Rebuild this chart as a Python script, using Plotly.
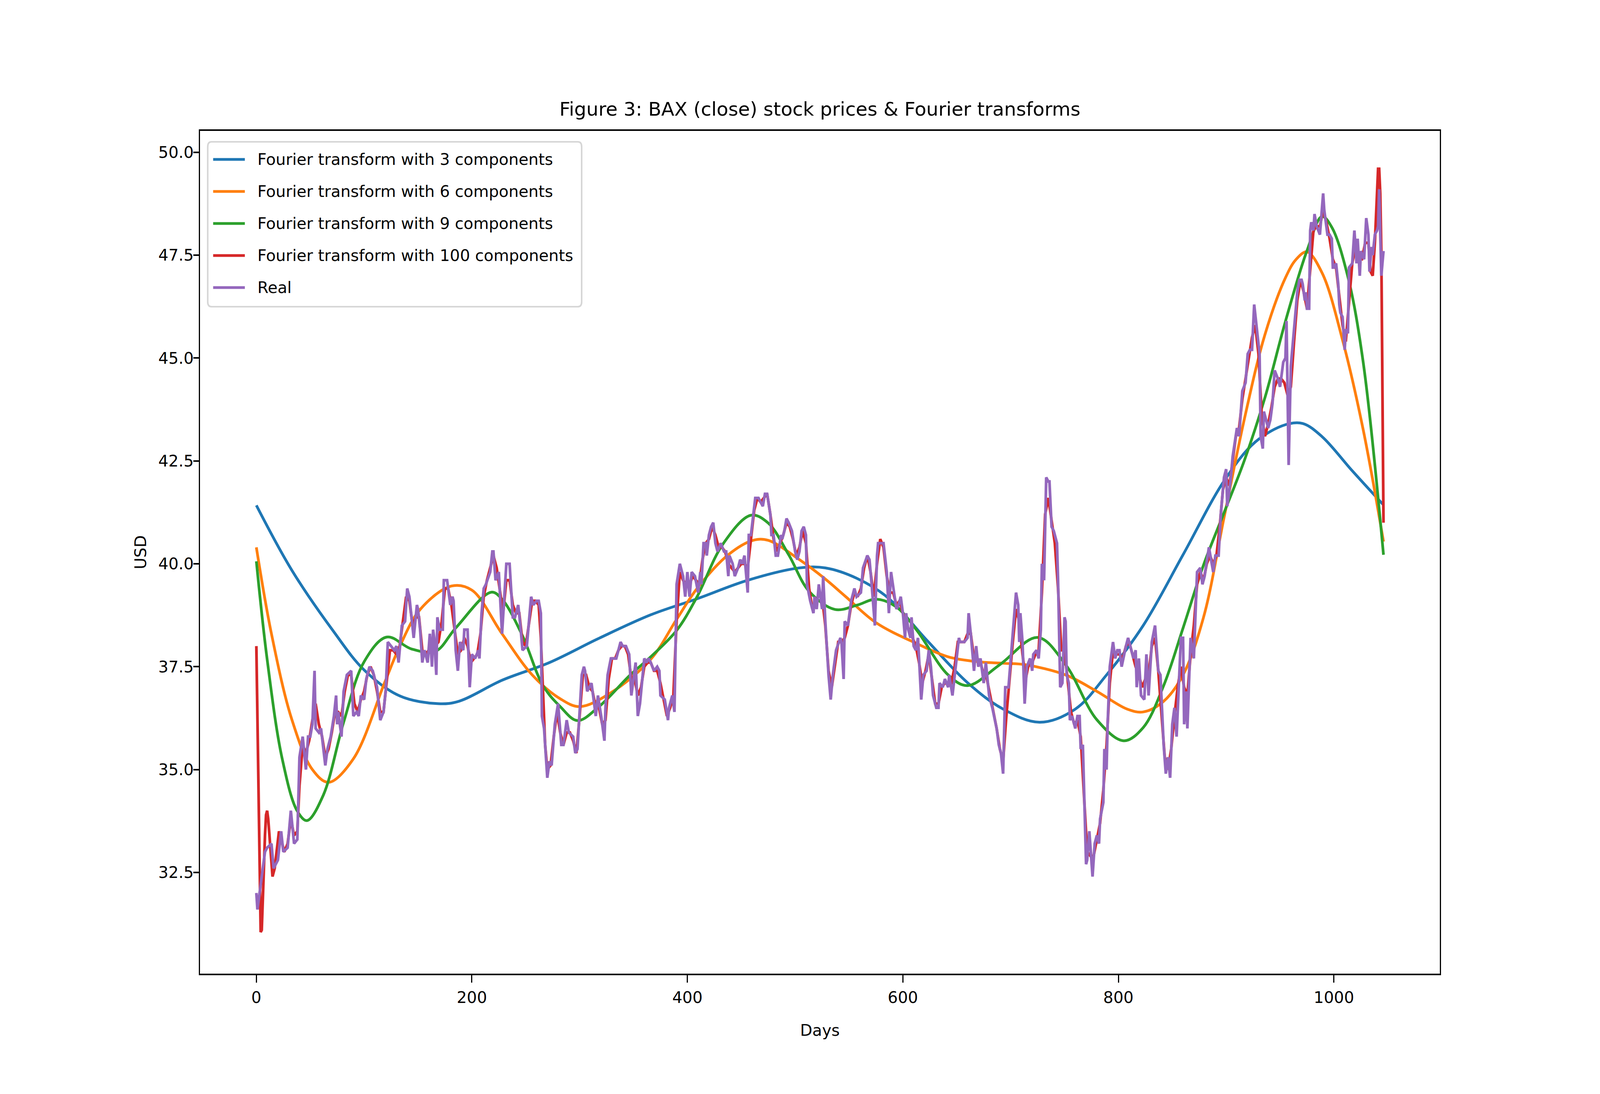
import plotly.graph_objects as go

# values (day index -> USD)
days_real = [
    0, 1, 4, 8, 10, 14, 16, 20, 23, 25, 29, 32, 35, 38, 40, 43, 46, 48, 50, 52,
    54, 55, 58, 60, 64, 66, 69, 72, 74, 75, 76, 79, 81, 84, 88, 90, 93, 95, 97, 100,
    102, 105, 108, 112, 115, 118, 120, 122, 125, 128, 130, 132, 135, 138, 140, 142, 144, 146, 149, 150,
    152, 154, 156, 159, 161, 163, 164, 165, 167, 168, 170, 173, 174, 177, 180, 182, 183, 184, 185, 187,
    189, 192, 193, 196, 198, 200, 203, 206, 207, 209, 211, 213, 217, 219, 220, 222, 225, 228, 230, 232,
    235, 238, 240, 243, 245, 247, 251, 255, 257, 260, 262, 264, 265, 267, 270, 272, 274, 277, 280, 283,
    285, 288, 290, 294, 296, 298, 302, 304, 305, 307, 309, 311, 315, 317, 320, 323, 324, 326, 329, 333,
    334, 338, 340, 343, 346, 348, 350, 352, 354, 356, 360, 362, 364, 366, 369, 372, 374, 375, 379, 382,
    383, 386, 388, 390, 393, 396, 398, 400, 402, 404, 407, 410, 412, 413, 415, 417, 418, 420, 422, 424,
    426, 428, 431, 434, 436, 438, 439, 442, 444, 447, 449, 451, 453, 456, 457, 459, 463, 464, 466, 468,
    470, 472, 474, 477, 478, 480, 482, 484, 487, 488, 490, 492, 494, 497, 500, 502, 504, 506, 508, 510,
    511, 514, 517, 518, 520, 522, 525, 526, 528, 531, 533, 535, 538, 542, 543, 545, 546, 549, 552, 555,
    557, 561, 563, 567, 569, 571, 574, 576, 577, 580, 582, 585, 587, 589, 591, 594, 596, 598, 600, 602,
    603, 605, 607, 608, 610, 612, 614, 617, 619, 622, 624, 626, 628, 631, 633, 634, 637, 639, 642, 643,
    646, 650, 652, 653, 657, 660, 661, 663, 666, 668, 670, 672, 675, 677, 680, 683, 687, 689, 691, 693,
    695, 698, 700, 702, 705, 707, 708, 709, 711, 713, 715, 718, 720, 721, 724, 726, 728, 729, 731, 733,
    735, 736, 738, 740, 743, 744, 746, 748, 750, 751, 752, 754, 755, 757, 760, 762, 764, 765, 767, 770,
    771, 773, 776, 778, 780, 782, 783, 786, 787, 789, 790, 792, 795, 797, 799, 801, 803, 807, 809, 812,
    814, 816, 817, 819, 821, 824, 826, 828, 831, 834, 837, 839, 842, 844, 846, 848, 850, 852, 854, 858,
    860, 861, 863, 864, 867, 870, 873, 876, 878, 880, 884, 888, 890, 893, 895, 898, 900, 901, 904, 906,
    910, 912, 915, 918, 920, 922, 924, 926, 929, 931, 932, 934, 935, 939, 941, 943, 945, 948, 950, 953,
    955, 956, 958, 960, 962, 964, 966, 968, 970, 971, 973, 974, 975, 977, 978, 979, 981, 982, 984, 987,
    988, 990, 991, 994, 996, 998, 999, 1000, 1002, 1004, 1005, 1006, 1008, 1010, 1011, 1013, 1014, 1017, 1019, 1021,
    1022, 1024, 1025, 1028, 1030, 1032, 1033, 1035, 1036, 1038, 1040, 1041, 1042, 1043, 1044, 1046,
]
real = [
    32.0, 31.6, 32.2, 33.0, 33.1, 33.2, 32.6, 32.8, 33.5, 33.0, 33.1, 34.0, 33.2, 33.3, 35.3, 35.8, 35.0, 35.8, 35.8, 36.1,
    37.4, 36.0, 35.9, 36.0, 35.1, 35.5, 35.8, 36.3, 36.8, 36.1, 36.4, 35.8, 36.9, 37.3, 37.4, 36.3, 36.4, 36.3, 36.8, 36.7,
    37.2, 37.5, 37.4, 37.0, 36.2, 36.4, 36.9, 38.1, 38.0, 37.9, 38.0, 37.6, 38.5, 38.6, 39.4, 39.2, 38.7, 38.2, 39.0, 38.9,
    38.4, 37.6, 37.9, 37.6, 38.3, 37.5, 38.4, 38.2, 37.3, 38.7, 38.4, 38.4, 39.6, 39.6, 39.0, 39.2, 39.1, 38.3, 37.9, 37.4,
    38.1, 37.9, 38.4, 38.4, 37.0, 37.8, 37.7, 37.9, 37.7, 38.8, 39.4, 39.5, 39.8, 40.3, 40.3, 39.6, 39.8, 38.3, 39.2, 40.0,
    40.0, 38.7, 38.7, 39.0, 38.5, 37.9, 38.0, 39.2, 39.0, 39.1, 39.1, 38.8, 36.3, 36.0, 34.8, 35.2, 35.1, 36.1, 36.6, 35.6,
    35.6, 36.2, 35.9, 35.8, 35.4, 35.5, 37.3, 37.5, 37.4, 36.9, 37.0, 37.1, 36.3, 36.8, 36.3, 35.7, 36.5, 37.3, 37.7, 37.7,
    37.7, 38.1, 38.0, 38.0, 37.8, 36.8, 37.2, 37.6, 36.3, 36.6, 37.7, 37.6, 37.7, 37.6, 37.4, 37.5, 37.4, 36.8, 36.7, 36.2,
    36.5, 36.8, 36.4, 39.5, 40.0, 39.7, 39.2, 39.8, 39.2, 39.8, 39.7, 39.3, 39.8, 39.5, 40.5, 40.5, 40.2, 40.7, 40.9, 41.0,
    40.5, 40.3, 40.5, 40.3, 40.3, 39.7, 40.2, 40.0, 39.7, 39.9, 40.1, 40.0, 40.2, 39.3, 40.7, 40.7, 41.6, 41.6, 41.6, 41.5,
    41.4, 41.7, 41.7, 41.2, 40.7, 40.7, 40.2, 40.2, 40.7, 40.6, 40.8, 41.1, 41.0, 40.8, 40.3, 40.1, 40.3, 40.8, 40.9, 40.7,
    39.5, 39.1, 38.8, 39.2, 38.9, 39.5, 38.9, 39.7, 38.6, 37.3, 36.7, 37.3, 37.9, 38.2, 38.1, 37.2, 38.6, 38.5, 39.1, 39.4,
    39.2, 39.3, 39.9, 40.2, 40.1, 39.5, 38.5, 40.2, 40.5, 40.5, 40.5, 39.8, 38.8, 39.8, 39.4, 38.9, 39.0, 39.2, 38.8, 38.2,
    38.8, 38.4, 38.2, 38.7, 38.0, 37.9, 38.2, 36.7, 37.3, 37.4, 37.9, 37.5, 36.8, 36.5, 36.5, 37.1, 37.0, 37.2, 37.0, 37.3,
    36.8, 37.8, 38.2, 38.1, 38.1, 38.2, 38.8, 38.3, 37.4, 38.0, 37.5, 37.7, 37.1, 37.6, 36.8, 36.5, 36.0, 35.6, 35.4, 34.9,
    37.0, 37.0, 37.7, 38.2, 39.3, 39.0, 38.1, 38.8, 38.1, 36.6, 37.5, 37.7, 37.4, 37.8, 37.9, 37.7, 38.4, 40.0, 39.6, 42.1,
    42.0, 42.0, 40.9, 40.8, 40.5, 39.6, 37.0, 37.1, 38.7, 38.6, 37.3, 37.1, 36.2, 36.3, 36.0, 36.3, 36.3, 35.5, 35.6, 32.7,
    32.8, 33.5, 32.4, 33.2, 33.4, 33.2, 33.8, 34.2, 35.5, 35.0, 36.1, 37.5, 38.1, 37.7, 37.9, 37.9, 37.5, 38.0, 38.2, 37.9,
    37.7, 37.9, 37.0, 37.7, 36.8, 36.7, 37.8, 36.8, 38.1, 38.5, 37.4, 37.3, 35.6, 34.9, 35.3, 34.8, 36.1, 36.5, 35.8, 38.2,
    38.2, 36.1, 36.9, 36.0, 38.2, 37.7, 39.8, 39.9, 39.5, 39.7, 40.4, 39.8, 40.2, 40.2, 41.2, 42.1, 42.3, 41.4, 42.0, 42.6,
    43.3, 43.1, 44.2, 44.4, 45.1, 45.2, 45.2, 46.3, 45.5, 45.1, 43.1, 42.8, 43.7, 43.3, 43.5, 43.9, 44.7, 44.5, 44.3, 44.9,
    45.0, 45.9, 42.4, 44.8, 45.4, 46.0, 46.6, 46.9, 46.9, 46.8, 46.4, 46.6, 46.2, 46.2, 48.1, 48.3, 48.1, 48.5, 48.2, 48.0,
    48.4, 49.0, 48.6, 48.0, 48.0, 47.9, 47.2, 47.2, 47.3, 46.8, 46.3, 46.1, 46.0, 45.2, 45.7, 45.6, 47.2, 47.3, 48.1, 47.3,
    47.9, 47.0, 47.6, 47.4, 48.4, 48.0, 47.1, 47.7, 47.5, 48.0, 48.1, 48.2, 49.1, 47.6, 47.0, 47.6,
]

days_f100 = [
    0, 1, 2, 3, 4, 5, 6, 7, 8, 9, 10, 11, 13, 15, 17, 19, 21, 23, 26, 29,
    32, 35, 38, 40, 43, 46, 49, 52, 55, 58, 61, 64, 67, 70, 73, 76, 79, 82, 85, 88,
    91, 94, 97, 100, 103, 106, 109, 112, 115, 118, 121, 124, 127, 130, 133, 136, 139, 142, 145, 148,
    151, 154, 157, 160, 163, 166, 169, 172, 175, 178, 181, 184, 187, 190, 193, 196, 199, 202, 205, 208,
    211, 214, 217, 220, 223, 226, 229, 232, 235, 238, 241, 244, 247, 250, 253, 256, 259, 262, 264, 266,
    268, 270, 273, 276, 279, 282, 285, 288, 291, 294, 297, 300, 303, 306, 309, 312, 315, 318, 321, 324,
    327, 330, 333, 336, 339, 342, 345, 348, 351, 354, 357, 360, 363, 366, 369, 372, 375, 378, 381, 384,
    387, 390, 393, 396, 399, 402, 405, 408, 411, 414, 417, 420, 423, 426, 429, 432, 435, 438, 441, 444,
    447, 450, 453, 456, 459, 462, 465, 468, 471, 474, 477, 480, 483, 486, 489, 492, 495, 498, 501, 504,
    507, 510, 513, 516, 519, 522, 525, 528, 531, 534, 537, 540, 543, 546, 549, 552, 555, 558, 561, 564,
    567, 570, 573, 576, 579, 582, 585, 588, 591, 594, 597, 600, 603, 606, 609, 612, 615, 618, 621, 624,
    627, 630, 633, 636, 639, 642, 645, 648, 651, 654, 657, 660, 663, 666, 669, 672, 675, 678, 681, 684,
    687, 690, 693, 696, 699, 702, 705, 708, 711, 714, 717, 720, 723, 726, 729, 732, 735, 738, 741, 744,
    747, 750, 753, 756, 759, 762, 765, 768, 771, 774, 777, 780, 783, 786, 789, 792, 795, 798, 801, 804,
    807, 810, 813, 816, 819, 822, 825, 828, 831, 834, 837, 840, 843, 846, 849, 852, 855, 858, 861, 864,
    867, 870, 873, 876, 879, 882, 885, 888, 891, 894, 897, 900, 903, 906, 909, 912, 915, 918, 921, 924,
    927, 930, 933, 936, 939, 942, 945, 948, 951, 954, 957, 960, 963, 966, 969, 972, 975, 978, 981, 984,
    987, 990, 993, 996, 999, 1002, 1005, 1008, 1011, 1014, 1017, 1020, 1023, 1026, 1029, 1032, 1034, 1036, 1038, 1040,
    1041, 1042, 1043, 1044, 1045, 1046,
]
f100 = [
    38.0, 36.2, 34.0, 32.0, 31.05, 31.1, 31.7, 32.6, 33.4, 33.9, 34.0, 33.8, 33.1, 32.4, 32.6, 33.1, 33.5, 33.3, 33.0, 33.2,
    33.8, 33.4, 33.5, 34.6, 35.6, 35.4, 35.7, 36.2, 36.6, 36.1, 35.8, 35.3, 35.5, 35.9, 36.4, 36.4, 36.3, 36.9, 37.3, 37.3,
    36.6, 36.4, 36.7, 36.9, 37.3, 37.5, 37.3, 36.9, 36.4, 36.4, 37.2, 37.9, 37.9, 37.8, 38.0, 38.6, 39.2, 39.1, 38.5, 38.7,
    38.7, 37.9, 37.8, 37.9, 38.0, 38.0, 38.1, 38.6, 39.4, 39.4, 39.0, 38.4, 37.8, 37.9, 38.2, 38.0, 37.6, 37.7, 37.8, 38.3,
    39.2, 39.6, 39.9, 40.2, 39.9, 39.3, 38.8, 39.6, 39.6, 39.0, 38.8, 38.8, 38.1, 38.0, 38.6, 39.1, 39.1, 39.0, 38.2, 36.8,
    35.6, 35.0, 35.1, 35.8, 36.4, 35.9, 35.6, 35.9, 35.9, 35.7, 35.4, 36.3, 37.3, 37.3, 37.0, 36.9, 36.5, 36.5, 36.1, 36.2,
    37.2, 37.7, 37.7, 37.9, 38.0, 38.0, 37.8, 37.2, 37.2, 36.8, 37.0, 37.5, 37.6, 37.6, 37.4, 37.4, 37.1, 36.7, 36.3, 36.5,
    36.8, 38.6, 39.8, 39.6, 39.5, 39.5, 39.7, 39.6, 39.5, 40.1, 40.5, 40.6, 40.9, 40.7, 40.4, 40.4, 40.3, 40.0, 39.9, 39.8,
    39.9, 40.0, 40.0, 39.9, 40.6, 41.3, 41.6, 41.5, 41.6, 41.7, 41.2, 40.6, 40.3, 40.5, 40.7, 41.0, 40.9, 40.6, 40.2, 40.4,
    40.8, 40.5, 39.4, 38.9, 39.0, 39.3, 39.2, 38.5, 37.4, 37.0, 37.6, 38.1, 38.1, 38.2, 38.5, 39.0, 39.3, 39.2, 39.4, 39.9,
    40.2, 39.8, 39.2, 40.0, 40.6, 40.4, 39.7, 39.3, 39.3, 39.0, 39.1, 38.8, 38.5, 38.4, 38.2, 38.0, 37.6, 37.1, 37.4, 37.8,
    37.2, 36.6, 36.6, 37.0, 37.1, 37.1, 37.1, 37.5, 38.1, 38.1, 38.1, 38.3, 38.3, 37.7, 37.7, 37.6, 37.3, 37.2, 36.8, 36.4,
    36.0, 35.5, 35.2, 36.3, 37.3, 38.1, 38.9, 38.6, 37.8, 37.2, 37.6, 37.6, 37.8, 37.9, 39.3, 41.2, 41.6, 41.1, 40.5, 39.4,
    37.9, 37.9, 37.2, 36.4, 36.1, 36.2, 35.8, 34.4, 33.0, 32.9, 32.9, 33.3, 33.7, 34.5, 35.6, 37.1, 37.9, 37.8, 37.8, 37.7,
    38.0, 38.1, 37.8, 37.5, 37.3, 37.0, 37.2, 37.3, 38.0, 38.2, 37.4, 36.4, 35.3, 35.0, 35.5, 36.3, 37.0, 37.5, 37.0, 36.8,
    37.8, 38.5, 39.5, 39.8, 39.6, 40.0, 40.2, 40.0, 40.2, 40.9, 41.8, 42.1, 41.9, 42.5, 43.1, 43.3, 44.0, 44.5, 45.0, 45.5,
    45.8, 45.1, 43.6, 43.1, 43.4, 43.8, 44.3, 44.5, 44.5, 44.4, 44.1, 44.3, 45.4, 46.4, 46.9, 46.6, 46.2, 47.2, 48.1, 48.2,
    48.2, 48.6, 48.3, 47.9, 47.4, 47.2, 46.5, 45.8, 45.4, 46.4, 47.3, 47.7, 47.4, 47.4, 47.8, 47.8, 47.1, 47.0, 47.8, 49.0,
    49.6, 49.6, 49.0, 47.6, 44.4, 41.0,
]

days_f3 = [0, 33, 71, 100, 133, 169, 188, 228, 272, 318, 366, 409, 456, 504, 528, 557,
           585, 623, 660, 693, 727, 760, 789, 823, 860, 898, 927, 955, 971, 989, 1017, 1046]
f3 = [41.42, 39.84, 38.38, 37.42, 36.79, 36.6, 36.66, 37.17, 37.6, 38.19, 38.76, 39.15, 39.6, 39.9, 39.9, 39.65,
      39.2, 38.12, 37.11, 36.47, 36.15, 36.47, 37.3, 38.5, 40.22, 42.01, 42.96, 43.38, 43.41, 43.09, 42.26, 41.43]

days_f6 = [0, 14, 33, 52, 67, 90, 119, 133, 152, 181, 200, 228, 256, 282, 300, 328, 366, 390, 409, 438,
           461, 475, 504, 527, 547, 575, 613, 642, 670, 695, 713, 751, 780, 808, 823, 842, 860, 879, 898, 917,
           936, 955, 965, 975, 989, 1008, 1027, 1046]
f6 = [40.4, 38.3, 36.21, 35.0, 34.69, 35.26, 37.11, 37.99, 38.89, 39.46, 39.36, 38.3, 37.3, 36.72, 36.53, 36.85, 37.68, 38.65, 39.4, 40.22,
      40.57, 40.57, 40.1, 39.65, 39.2, 38.57, 38.06, 37.74, 37.62, 37.58, 37.55, 37.3, 36.9, 36.47, 36.4, 36.66, 37.3, 38.7, 41.12, 43.53,
      45.57, 46.95, 47.4, 47.58, 47.07, 45.44, 43.28, 40.54]

days_f9 = [0, 10, 24, 38, 47, 62, 81, 100, 121, 144, 166, 185, 218, 228, 247, 266, 282, 298, 318, 347,
           366, 390, 409, 433, 459, 475, 494, 513, 537, 558, 575, 594, 613, 642, 660, 690, 725, 751, 780, 805,
           823, 842, 860, 879, 898, 917, 936, 955, 975, 989, 998, 1013, 1027, 1046]
f9 = [40.06, 37.68, 35.26, 33.99, 33.76, 34.37, 36.15, 37.62, 38.22, 37.93, 37.87, 38.44, 39.31, 39.14, 38.25, 37.04, 36.53, 36.19, 36.53, 37.3,
      37.74, 38.38, 39.2, 40.48, 41.18, 40.99, 40.22, 39.33, 38.89, 39.0, 39.14, 38.95, 38.38, 37.3, 37.04, 37.55, 38.21, 37.55, 36.21, 35.7,
      36.02, 37.04, 38.44, 39.97, 41.24, 42.52, 44.04, 45.89, 47.61, 48.44, 48.18, 46.97, 44.93, 40.22]

series_names = [
    "Fourier transform with 3 components",
    "Fourier transform with 6 components",
    "Fourier transform with 9 components",
    "Fourier transform with 100 components",
    "Real",
]
colors = ["#1f77b4", "#ff7f0e", "#2ca02c", "#d62728", "#9467bd"]

# the page viewport is 4096x2800 css px; the reference geometry was measured on a 5600x2800 image,
# so horizontal distances are scaled by KX and vertical ones are kept
KX = 4096 / 5600
W, H = 5600, 2800
L, R, T, B = 700, 5040, 335, 2492  # axes box, reference px
FS = 55.6 * KX
LW = 7
FONT = "DejaVu Sans"


def px_x(p):
    return (p - L) / (R - L)


def px_y(p):
    return (B - p) / (B - T)


series = [(days_f3, f3, "spline"), (days_f6, f6, "spline"), (days_f9, f9, "spline"),
          (days_f100, f100, "linear"), (days_real, real, "linear")]

fig = go.Figure()
for (xs, ys, shape), name, col in zip(series, series_names, colors):
    fig.add_trace(go.Scatter(x=xs, y=ys, mode="lines", name=name, showlegend=False,
                             line=dict(color=col, width=LW, shape=shape)))

# legend drawn like matplotlib's (long handles, rounded frame)
x0, x1, y0, y1 = px_x(727), px_x(2036), px_y(363), px_y(785)
rx, ry = 13 / (R - L), 13 / (B - T)
frame = (f"M{x0 + rx},{y0} L{x1 - rx},{y0} Q{x1},{y0} {x1},{y0 - ry} "
         f"L{x1},{y1 + ry} Q{x1},{y1} {x1 - rx},{y1} "
         f"L{x0 + rx},{y1} Q{x0},{y1} {x0},{y1 + ry} "
         f"L{x0},{y0 - ry} Q{x0},{y0} {x0 + rx},{y0} Z")
shapes = [dict(type="path", xref="paper", yref="paper", path=frame, layer="above",
               fillcolor="rgba(255,255,255,0.8)", line=dict(color="rgba(204,204,204,0.8)", width=4))]
annotations = []
for i, (name, col) in enumerate(zip(series_names, colors)):
    yy = px_y(408 + 82 * i)
    shapes.append(dict(type="line", xref="paper", yref="paper", layer="above",
                       x0=px_x(746), x1=px_x(857), y0=yy, y1=yy,
                       line=dict(color=col, width=LW)))
    annotations.append(dict(text=name, xref="paper", yref="paper", x=px_x(898), y=yy,
                            xanchor="left", yanchor="middle", showarrow=False,
                            font=dict(family=FONT, size=FS, color="black")))

axis_common = dict(showgrid=False, zeroline=False, showline=True, mirror=True,
                   linecolor="black", ticks="outside", tickcolor="black",
                   tickfont=dict(family=FONT, size=FS, color="black"))

fig.update_layout(
    width=round(W * KX), height=H,
    margin=dict(l=L * KX, r=(W - R) * KX, t=T, b=H - B, pad=0),
    paper_bgcolor="white", plot_bgcolor="white",
    title=dict(text="Figure 3: BAX (close) stock prices & Fourier transforms",
               x=0.5, xref="paper", xanchor="center",
               y=1 - 279 / H, yref="container", yanchor="middle",
               font=dict(family=FONT, size=66.7 * KX, color="black")),
    xaxis=dict(range=[-52.3, 1098.3], tick0=0, dtick=200,
               linewidth=4.4, ticklen=19, tickwidth=4.4 * KX, ticklabelstandoff=3,
               title=dict(text="Days", standoff=48, font=dict(family=FONT, size=FS, color="black")),
               **axis_common),
    yaxis=dict(range=[30.04, 50.52], tick0=32.5, dtick=2.5, tickformat=".1f",
               linewidth=4.4 * KX, ticklen=19 * KX, tickwidth=4.4, ticklabelstandoff=-9,
               title=dict(text="USD", standoff=19, font=dict(family=FONT, size=FS, color="black")),
               **axis_common),
    shapes=shapes,
    annotations=annotations,
)

fig.write_html("out.html", config={"displayModeBar": False},
               post_script="document.body.style.margin='0';document.body.style.overflow='hidden';")
